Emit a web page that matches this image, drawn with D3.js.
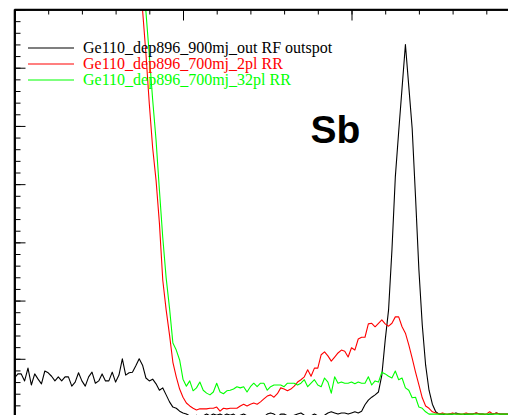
<!DOCTYPE html>
<html>
  <head>
    <meta charset="utf-8">
    <script src="https://d3js.org/d3.v7.min.js"></script>
    <style>
      body { margin: 0; background: #fff; }
      svg { display: block; }
      .axis .domain { stroke: #000; stroke-width: 1.6px; }
      .axis line { stroke: #000; stroke-width: 1px; }
      .axis text { display: none; }
      .trace { fill: none; stroke-width: 1.1px; stroke-linejoin: round; }
      .legend text { font-family: "Liberation Serif", "Times New Roman", serif; font-size: 16px; }
      .peak-label { font-family: "Liberation Sans", Arial, sans-serif; font-weight: bold; font-size: 39px; }
    </style>
  </head>
  <body>
    <script>
      // energy axis, one channel per eV
      const energyStart = 350;
      const energyEnd = 500;
      const countsMax = 70;

      const seriesNames = [
        'Ge110_dep896_900mj_out RF outspot',
        'Ge110_dep896_700mj_2pl RR',
        'Ge110_dep896_700mj_32pl RR'
      ];
      const seriesColors = ['#000000', '#ff0000', '#00ff00'];

      // black trace starts at 350
      const outspotStart = 350;
      const outspotCounts = [
        6.7, 7.4, 7.4, 6.2, 8.4, 5.5, 7.4, 6.5, 5.7, 7.9,
        7.6, 7.0, 6.2, 6.9, 6.2, 6.9, 6.9, 5.3, 6.0, 7.6,
        6.2, 5.3, 6.9, 7.7, 5.8, 6.2, 7.4, 6.2, 6.2, 7.7,
        6.0, 7.2, 10.0, 7.2, 7.6, 7.7, 8.8, 10.0, 8.9, 6.7,
        6.2, 6.5, 5.7, 4.6, 5.0, 3.8, 2.6, 1.7, 1.5, 1.0,
        0.7, 0.5, 0.2, 0.0, 0.3, 0.0, 0.2, 0.5, 0.2, 0.5,
        0.3, 0.5, 0.2, 0.5, 0.3, 0.5, 0.0, 0.3, 0.5, 0.2,
        0.0, 0.2, 0.0, 0.2, 0.0, 0.5, 0.7, 0.5, 0.0, 0.5,
        0.5, 0.2, 0.0, 0.3, 0.5, 0.7, 0.3, 0.0, 0.2, 0.5,
        0.2, 0.0, 0.3, 0.7, 0.9, 0.7, 0.5, 0.7, 0.7, 0.5,
        0.7, 0.9, 0.7, 1.0, 2.1, 2.9, 3.4, 3.8, 4.3, 7.2,
        13.2, 18.4, 28.7, 41.2, 49.0, 56.5, 64.0, 56.8, 49.6, 37.8,
        25.3, 15.8, 8.9, 4.6, 2.2, 0.9, 0.5, 0.5, 0.3, 0.5,
        0.5, 0.7, 0.5, 0.3, 0.5, 0.5, 0.5, 0.7, 0.5, 0.5,
        0.3, 0.5, 0.5, 0.7, 0.5, 0.5, 0.5, 0.5
      ];

      // red and green traces start at 387 (earlier channels are off scale)
      const rrStart = 387;
      const rr2plCounts = [
        75.4, 69.9, 62.4,
        53.8, 46.2, 40.7, 33.3, 23.5, 18.4, 14.1, 9.4, 6.9, 4.8,
        3.4, 2.4, 1.9, 1.5, 1.2, 1.4, 1.4, 1.4, 1.5, 1.5,
        1.7, 1.0, 1.5, 1.4, 1.5, 1.5, 1.5, 1.9, 2.2, 1.9,
        2.2, 2.4, 2.2, 2.6, 3.1, 3.6, 3.8, 3.4, 4.0, 5.0,
        4.8, 4.5, 4.8, 5.3, 6.0, 6.4, 6.9, 8.1, 7.0, 8.4,
        8.4, 10.7, 11.2, 10.5, 9.6, 10.3, 11.0, 11.5, 11.3, 10.3,
        11.9, 11.5, 13.4, 13.7, 13.7, 16.0, 16.1, 15.5, 16.1, 16.7,
        16.0, 15.6, 16.1, 17.2, 17.2, 15.5, 14.4, 12.4, 10.1, 7.7,
        5.5, 3.3, 1.9, 1.5, 0.9, 0.7, 0.5, 0.7, 0.5, 0.5,
        0.7, 0.5, 0.5, 0.5, 0.7, 0.5, 0.5, 0.7, 0.5, 0.5,
        0.5, 0.9, 0.5, 0.7, 0.5, 0.5, 0.5, 0.5
      ];
      const rr32plCounts = [
        81.1, 75.1, 69.6,
        62.2, 54.5, 47.6, 39.0, 30.8, 23.9, 18.7, 12.7, 11.5, 9.8,
        6.5, 5.3, 6.2, 4.5, 5.0, 6.0, 4.6, 4.1, 3.8, 4.3,
        5.8, 4.3, 4.0, 4.5, 4.6, 4.8, 5.2, 5.0, 5.2, 4.3,
        5.2, 5.8, 5.2, 5.8, 5.8, 4.6, 5.2, 5.5, 5.5, 5.5,
        5.2, 5.8, 5.8, 5.8, 5.5, 5.8, 6.4, 5.2, 5.8, 6.4,
        5.5, 5.2, 6.7, 6.0, 4.1, 6.9, 5.8, 6.0, 5.8, 5.8,
        6.0, 5.7, 6.0, 5.8, 5.8, 6.9, 5.5, 6.2, 6.0, 7.7,
        7.4, 7.0, 6.7, 7.9, 6.4, 6.7, 5.0, 4.6, 3.3, 3.4,
        1.7, 1.5, 0.9, 0.5, 0.5, 0.5, 0.5, 0.5, 0.5, 0.5,
        0.5, 0.5, 0.5, 0.5, 0.5, 0.5, 0.5, 0.5, 0.5, 0.5,
        0.5, 0.5, 0.5, 0.5, 0.5, 0.5, 0.5, 0.5
      ];

      const peakLabel = 'Sb';
      const peakLabelAt = [439, 47];

      const width = 508;
      const height = 415;
      const plotLeft = 14.5;
      const plotTop = 9.5;

      const x = d3.scaleLinear().domain([energyStart, energyEnd]).range([plotLeft, 520]);
      const y = d3.scaleLinear().domain([0, countsMax]).range([417, plotTop]);

      const toPoints = (start, counts) => counts.map((c, i) => [start + i, c]);
      const series = [
        toPoints(outspotStart, outspotCounts),
        toPoints(rrStart, rr2plCounts),
        toPoints(rrStart, rr32plCounts)
      ];

      const svg = d3.select('body')
        .append('svg')
        .attr('width', width)
        .attr('height', height);

      svg.append('clipPath')
        .attr('id', 'plot-clip')
        .append('rect')
        .attr('x', plotLeft)
        .attr('y', plotTop)
        .attr('width', width - plotLeft)
        .attr('height', height);

      const line = d3.line()
        .x(d => x(d[0]))
        .y(d => y(d[1]));

      svg.append('g')
        .attr('clip-path', 'url(#plot-clip)')
        .selectAll('path')
        .data(series)
        .enter()
        .append('path')
        .classed('trace', true)
        .attr('stroke', (d, i) => seriesColors[i])
        .attr('d', line);

      // inward ticks: minor + major, no labels (cropped)
      const xMinor = d3.range(energyStart, energyEnd + 1, 10);
      const xMajor = d3.range(energyStart, energyEnd + 1, 50);
      const yMinor = d3.range(0, countsMax + 1, 2);
      const yMajor = d3.range(0, countsMax + 1, 10);

      svg.append('g')
        .classed('axis', true)
        .attr('transform', `translate(0,${plotTop})`)
        .call(d3.axisBottom(x).tickValues(xMinor).tickSize(5).tickSizeOuter(0));
      svg.append('g')
        .classed('axis', true)
        .attr('transform', `translate(0,${plotTop})`)
        .call(d3.axisBottom(x).tickValues(xMajor).tickSize(11).tickSizeOuter(0));

      svg.append('g')
        .classed('axis', true)
        .attr('transform', `translate(${plotLeft},0)`)
        .call(d3.axisRight(y).tickValues(yMinor).tickSize(6).tickSizeOuter(0));
      svg.append('g')
        .classed('axis', true)
        .attr('transform', `translate(${plotLeft},0)`)
        .call(d3.axisRight(y).tickValues(yMajor).tickSize(11).tickSizeOuter(0));

      // extend axis lines to the picture edges
      svg.append('line')
        .attr('x1', plotLeft).attr('x2', width)
        .attr('y1', plotTop).attr('y2', plotTop)
        .style('stroke', '#000').style('stroke-width', '1.6px');
      svg.append('line')
        .attr('x1', plotLeft).attr('x2', plotLeft)
        .attr('y1', plotTop).attr('y2', height)
        .style('stroke', '#000').style('stroke-width', '1.6px');

      const legend = svg.append('g').classed('legend', true);
      const rows = legend.selectAll('g')
        .data(seriesNames)
        .enter()
        .append('g')
        .attr('transform', (d, i) => `translate(28,${48 + i * 16})`);
      rows.append('line')
        .attr('x1', 0).attr('x2', 46)
        .attr('y1', 0).attr('y2', 0)
        .style('stroke', (d, i) => seriesColors[i])
        .style('stroke-width', '1.1px');
      rows.append('text')
        .attr('x', 55)
        .attr('y', 5)
        .attr('fill', (d, i) => seriesColors[i])
        .text(d => d);

      svg.append('text')
        .classed('peak-label', true)
        .attr('x', x(peakLabelAt[0]) - 4)
        .attr('y', y(peakLabelAt[1]))
        .text(peakLabel);
    </script>
  </body>
</html>
